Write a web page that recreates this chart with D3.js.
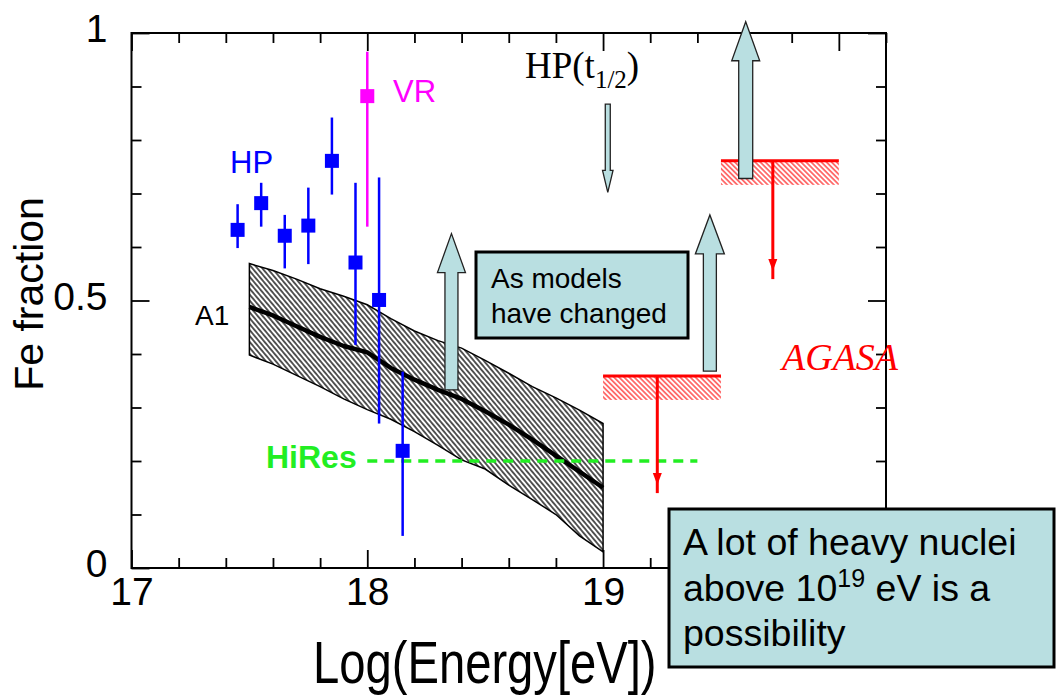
<!DOCTYPE html>
<html>
<head>
<meta charset="utf-8">
<script src="https://cdn.jsdelivr.net/npm/d3@7"></script>
<style>
  body { margin: 0; background: #fff; }
  svg { display: block; }
</style>
</head>
<body>
<div class="chart"></div>
<script>
// plot size
const w = 1057;
const h = 698;
const m = {left: 131.5, right: 886, top: 33, bottom: 568};

// axis ticks
const xMajor = [17, 18, 19, 20];
const xLabels = [17, 18, 19];
const xMinor = [17.2, 17.4, 17.6, 17.8, 18.2, 18.4, 18.6, 18.8, 19.2, 19.4, 19.6, 19.8, 20.2];
const yMajor = [0, 0.5, 1];
const yMinor = [0.1, 0.2, 0.3, 0.4, 0.6, 0.7, 0.8, 0.9];

// HP points
const hpE  = [17.45, 17.55, 17.65, 17.75, 17.85, 17.95, 18.05, 18.15];
const hpFe = [0.632, 0.682, 0.621, 0.640, 0.761, 0.571, 0.501, 0.219];
const hpHi = [0.680, 0.720, 0.660, 0.711, 0.842, 0.720, 0.730, 0.367];
const hpLo = [0.598, 0.638, 0.560, 0.568, 0.698, 0.417, 0.270, 0.060];

// VR point
const vrE  = [18.0];
const vrFe = [0.882];
const vrHi = [0.965];
const vrLo = [0.638];

// A1 band (upper, centre, lower)
const a1E   = [17.5, 17.6, 17.7, 17.8, 17.9, 18.0, 18.1, 18.2, 18.3, 18.4, 18.5, 18.6, 18.7, 18.8, 18.9, 19.0];
const a1Up  = [0.569, 0.556, 0.540, 0.522, 0.508, 0.492, 0.466, 0.443, 0.425, 0.411, 0.388, 0.364, 0.339, 0.318, 0.295, 0.270];
const a1Mid = [0.488, 0.472, 0.452, 0.432, 0.415, 0.403, 0.374, 0.352, 0.333, 0.316, 0.293, 0.268, 0.240, 0.210, 0.180, 0.150];
const a1Lo  = [0.398, 0.381, 0.360, 0.339, 0.316, 0.296, 0.278, 0.255, 0.229, 0.202, 0.185, 0.155, 0.128, 0.100, 0.060, 0.030];

// HiRes
const hiresE = [18.0, 19.4];
const hiresFe = 0.2;

// AGASA limits
const agasaE0 = [19.0, 19.5];
const agasaE1 = [19.5, 20.0];
const agasaFe = [0.359, 0.761];
const agasaArrowE = [19.23, 19.72];
const agasaArrowTo = [0.14, 0.54];

// block arrows: energy, tail, tip
const arrowE    = [18.357, 19.453, 19.605, 19.02];
const arrowTail = [0.333, 0.368, 0.728, 0.867];
const arrowTip  = [0.625, 0.660, 1.021, 0.702];

const sans = "'Liberation Sans', Arial, Helvetica, sans-serif";
const serif = "'Liberation Serif', 'Times New Roman', serif";
const boxFill = "#b9dfe1";

const svg = d3.select(".chart").append("svg")
  .attr("width", w)
  .attr("height", h)
  .style("font-family", sans);

const x = d3.scaleLinear().domain([17, 20.2]).range([m.left, m.right]);
const y = d3.scaleLinear().domain([0, 1]).range([m.bottom, m.top]);

// hatch patterns
const defs = svg.append("defs");
function hatch(id, color, sp, sw, ang) {
  defs.append("pattern")
    .attr("id", id)
    .attr("patternUnits", "userSpaceOnUse")
    .attr("width", sp).attr("height", sp)
    .attr("patternTransform", `rotate(${ang})`)
    .append("line")
      .attr("x1", sp / 2).attr("y1", 0).attr("x2", sp / 2).attr("y2", sp)
      .attr("stroke", color).attr("stroke-width", sw);
}
hatch("hatchBlack", "#000", 3.8, 1.3, -40);
hatch("hatchRed", "#ff3030", 3.6, 1.3, -45);

// axes: minor + major on each side, ticks pointing inward
function drawAxis(axisFn, pos, vals, size, labels) {
  const g = svg.append("g")
    .attr("transform", pos)
    .call(axisFn.tickValues(vals).tickSize(size).tickSizeOuter(0)
      .tickFormat(labels ? labels : ""));
  g.select(".domain").remove();
  g.selectAll(".tick line").attr("stroke", "#000").attr("stroke-width", 1.8);
  return g;
}
drawAxis(d3.axisBottom(x), `translate(0,${m.bottom})`, xMinor, -10);
drawAxis(d3.axisBottom(x), `translate(0,${m.bottom})`, [20], -18);
drawAxis(d3.axisTop(x), `translate(0,${m.top})`, xMinor, -10);
drawAxis(d3.axisTop(x), `translate(0,${m.top})`, xMajor, -18);
drawAxis(d3.axisLeft(y), `translate(${m.left},0)`, yMinor, -10);
drawAxis(d3.axisRight(y), `translate(${m.right},0)`, yMinor, -10);
drawAxis(d3.axisRight(y), `translate(${m.right},0)`, yMajor, -18);

const xAx = drawAxis(d3.axisBottom(x).tickPadding(9), `translate(0,${m.bottom})`, xLabels, -18, d3.format("d"));
xAx.selectAll("text").attr("font-size", 39).attr("font-family", sans).attr("fill", "#000");

const yAx = drawAxis(d3.axisLeft(y).tickPadding(24), `translate(${m.left},0)`, yMajor, -18, d => d === 0.5 ? "0.5" : d3.format("d")(d));
yAx.selectAll("text").attr("font-size", 39).attr("font-family", sans).attr("fill", "#000").attr("dy", "0.22em");

// frame
svg.append("rect")
  .attr("x", m.left).attr("y", m.top)
  .attr("width", m.right - m.left).attr("height", m.bottom - m.top)
  .attr("fill", "none").attr("stroke", "#000").attr("stroke-width", 2);

// axis titles
svg.append("text")
  .attr("transform", "translate(43,294) rotate(-90)")
  .attr("text-anchor", "middle")
  .attr("font-size", 41)
  .text("Fe fraction");

svg.append("text")
  .attr("transform", "translate(313,683) scale(0.8,1)")
  .attr("font-size", 59)
  .text("Log(Energy[eV])");

// A1 band
const band = d3.area()
  .x((d, i) => x(a1E[i]))
  .y0((d, i) => y(a1Lo[i]))
  .y1((d, i) => y(a1Up[i]));
svg.append("path")
  .attr("d", band(a1E))
  .attr("fill", "url(#hatchBlack)")
  .attr("stroke", "#000").attr("stroke-width", 1.5);

svg.append("path")
  .attr("d", d3.line().x((d, i) => x(a1E[i])).y((d, i) => y(a1Mid[i]))(a1E))
  .attr("fill", "none").attr("stroke", "#000").attr("stroke-width", 4.5)
  .attr("stroke-linejoin", "round");

svg.append("text")
  .attr("x", 195).attr("y", 325)
  .attr("font-size", 28)
  .text("A1");

// HiRes
svg.append("line")
  .attr("x1", x(hiresE[0])).attr("x2", x(hiresE[1]))
  .attr("y1", y(hiresFe)).attr("y2", y(hiresFe))
  .attr("stroke", "#22ee22").attr("stroke-width", 3.5)
  .attr("stroke-dasharray", "10,7");

svg.append("text")
  .attr("x", 266).attr("y", 468)
  .attr("font-size", 32).attr("font-weight", "bold")
  .attr("fill", "#22ee22")
  .text("HiRes");

// points with error bars
function points(E, F, hi, lo, color) {
  const g = svg.append("g");
  g.selectAll("line").data(E).enter().append("line")
    .attr("x1", d => x(d)).attr("x2", d => x(d))
    .attr("y1", (d, i) => y(hi[i])).attr("y2", (d, i) => y(lo[i]))
    .attr("stroke", color).attr("stroke-width", 2.5);
  g.selectAll("rect").data(E).enter().append("rect")
    .attr("x", d => x(d) - 7).attr("y", (d, i) => y(F[i]) - 7)
    .attr("width", 14).attr("height", 14)
    .attr("fill", color);
}
points(hpE, hpFe, hpHi, hpLo, "#0000ff");
points(vrE, vrFe, vrHi, vrLo, "#ff00ff");

svg.append("text")
  .attr("x", 230).attr("y", 173)
  .attr("font-size", 31).attr("fill", "#0000ff")
  .text("HP");
svg.append("text")
  .attr("x", 393).attr("y", 102)
  .attr("font-size", 31).attr("fill", "#ff00ff")
  .text("VR");

// AGASA limits
agasaFe.forEach((f, i) => {
  svg.append("rect")
    .attr("x", x(agasaE0[i])).attr("y", y(f))
    .attr("width", x(agasaE1[i]) - x(agasaE0[i])).attr("height", 24)
    .attr("fill", "url(#hatchRed)");
  svg.append("line")
    .attr("x1", x(agasaE0[i])).attr("x2", x(agasaE1[i]))
    .attr("y1", y(f)).attr("y2", y(f))
    .attr("stroke", "#ff0000").attr("stroke-width", 3);
  const ax = x(agasaArrowE[i]);
  const tip = y(agasaArrowTo[i]);
  svg.append("line")
    .attr("x1", ax).attr("x2", ax)
    .attr("y1", y(f)).attr("y2", tip)
    .attr("stroke", "#ff0000").attr("stroke-width", 3);
  svg.append("path")
    .attr("d", `M${ax - 4.5},${tip - 20} L${ax + 4.5},${tip - 20} L${ax},${tip - 8} Z`)
    .attr("fill", "#ff0000");
});

svg.append("text")
  .attr("x", 782).attr("y", 370)
  .attr("font-family", serif).attr("font-style", "italic")
  .attr("font-size", 38).attr("fill", "#ff0000")
  .text("AGASA");

// HP(t1/2) label
const hpt = svg.append("text")
  .attr("x", 525).attr("y", 78)
  .attr("font-family", serif).attr("font-size", 37);
hpt.append("tspan").text("HP(t");
hpt.append("tspan").attr("font-size", 25).attr("dy", 10).text("1/2");
hpt.append("tspan").attr("dy", -10).text(")");

// block arrows
function blockArrow(cx, yTail, yTip, shaftW, headW, headLen) {
  const s = yTip < yTail ? 1 : -1;
  const hb = yTip + s * headLen;
  return `M${cx - shaftW / 2},${yTail} L${cx - shaftW / 2},${hb} L${cx - headW / 2},${hb} ` +
         `L${cx},${yTip} L${cx + headW / 2},${hb} L${cx + shaftW / 2},${hb} L${cx + shaftW / 2},${yTail} Z`;
}
const arrowSize = [[13, 28, 39], [13, 29, 39], [14, 28, 39], [5, 10.5, 22]];
arrowE.forEach((e, i) => {
  const [sw, hw, hl] = arrowSize[i];
  svg.append("path")
    .attr("d", blockArrow(x(e), y(arrowTail[i]), y(arrowTip[i]), sw, hw, hl))
    .attr("fill", boxFill).attr("stroke", "#222").attr("stroke-width", 1.3);
});

// text boxes
function textBox(bx, by, bw, bh, lines, size, tx, baselines) {
  svg.append("rect")
    .attr("x", bx).attr("y", by).attr("width", bw).attr("height", bh)
    .attr("fill", boxFill).attr("stroke", "#000").attr("stroke-width", 3);
  return lines.map((l, i) => svg.append("text")
    .attr("x", tx).attr("y", baselines[i])
    .attr("font-size", size)
    .text(l));
}
textBox(476, 252, 212, 86, ["As models", "have changed"], 28, 491, [288, 323]);
const big = textBox(669, 509, 385, 158, ["A lot of heavy nuclei", "", "possibility"], 37.5, 683, [555, 601, 646]);
const l2 = big[1];
l2.append("tspan").text("above 10");
l2.append("tspan").attr("font-size", 25).attr("dy", -14).text("19");
l2.append("tspan").attr("dy", 14).text(" eV is a");
</script>
</body>
</html>
